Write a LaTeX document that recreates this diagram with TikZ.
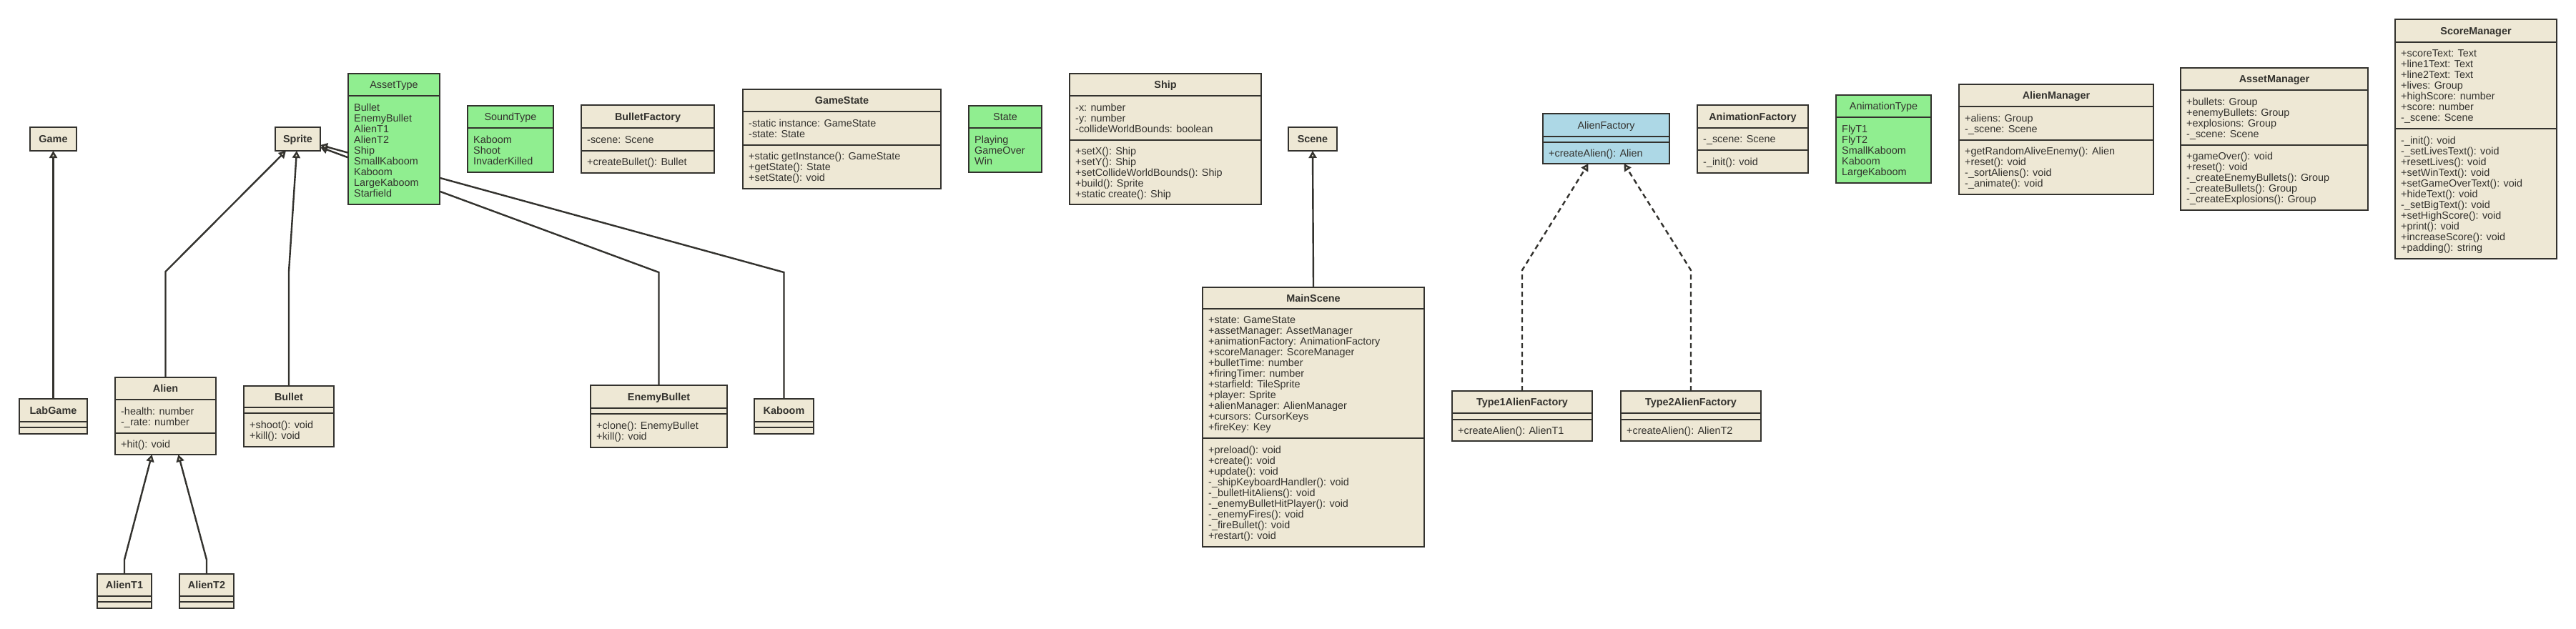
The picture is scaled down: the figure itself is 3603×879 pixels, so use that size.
\documentclass[tikz,border=0pt]{standalone}
\usepackage{fontspec}
\setmainfont{Liberation Sans}
\usetikzlibrary{arrows.meta}
\pgfdeclarelayer{edgelayer}
\pgfdeclarelayer{nodelayer}
\pgfsetlayers{edgelayer,nodelayer,main}
\definecolor{umlfill}{HTML}{EEE8D5}
\definecolor{umlline}{HTML}{33322E}
\definecolor{enumfill}{HTML}{90EE90}
\definecolor{ifacefill}{HTML}{ADD8E6}
\newcommand{\umlfont}{\fontsize{14.4}{15}\selectfont}
\tikzstyle{classbox}=[rectangle,draw=umlline,fill=umlfill,line width=2.5pt,inner sep=0pt,outer sep=0pt]
\tikzstyle{enumbox}=[classbox,fill=enumfill]
\tikzstyle{ifacebox}=[classbox,fill=ifacefill]
\tikzstyle{classtitle}=[font=\umlfont\bfseries,text=umlline,inner sep=0pt,anchor=base]
\tikzstyle{enumtitle}=[font=\umlfont,text=umlline,inner sep=0pt,anchor=base]
\tikzstyle{ifacetitle}=[enumtitle]
\tikzstyle{divider}=[draw=umlline,line width=2.5pt]
\tikzstyle{members}=[font=\umlfont,text=umlline,align=left,inner sep=0pt,anchor=north west]
\tikzstyle{inherit}=[draw=umlline,line width=2.4pt,line join=miter,-{Triangle[length=10pt,width=11pt,fill=umlfill]}]
\tikzstyle{realize}=[inherit,dash pattern=on 7pt off 5pt]
% box: [kind]{name}{left}{top}{right}{bottom}{title rule}{title}
\newcommand{\umlclass}[8][class]{%
	\node[#1box,minimum width={(#5-#3)*1pt},minimum height={(#6-#4)*1pt},anchor=north west] (#2) at (#3,#4) {};
	\draw[divider] (#2.west |- 0,#7) -- (#2.east |- 0,#7);
	\node[#1title] (#2-title) at ({(#3+#5)/2},{(#4+#7)/2+5.15}) {#8};
}
\newcommand{\umlsep}[2]{\draw[divider] (#1.west |- 0,#2) -- (#1.east |- 0,#2);}
% part: {box}{part}{top}{bottom}{lines}{text}
\newcommand{\umlpart}[6]{\node[members] (#1-#2) at ([xshift=8pt]#1.west |- 0,{(#3+#4)/2-5.85-7.5*(#5-1)}) {\rule{0pt}{11pt}#6};}

\begin{document}
\begin{tikzpicture}[x=1pt,y=-1pt]
	\useasboundingbox (0,0) rectangle (3603,879);
	\begin{pgfonlayer}{nodelayer}
		\umlclass{game}{42}{178}{107}{211}{211}{Game}
		\umlclass{labgame}{27}{558}{122}{607}{590}{LabGame}
		\umlsep{labgame}{598}
		\umlclass{sprite}{385}{178}{448}{211}{211}{Sprite}
		\umlclass{alien}{161}{528}{302}{636}{559}{Alien}
		\umlsep{alien}{606}
		\umlpart{alien}{attrs}{559}{606}{2}{-health: number\\-\_rate: number}
		\umlpart{alien}{ops}{606}{636}{1}{+hit(): void}
		\umlclass{bullet}{341}{540}{467}{625}{570}{Bullet}
		\umlsep{bullet}{578}
		\umlpart{bullet}{ops}{578}{625}{2}{+shoot(): void\\+kill(): void}
		\umlclass{alient1}{136}{803}{212}{851}{834}{AlienT1}
		\umlsep{alient1}{842}
		\umlclass{alient2}{251}{803}{327}{851}{834}{AlienT2}
		\umlsep{alient2}{842}
		\umlclass[enum]{assettype}{487}{103}{615}{286}{134}{AssetType}
		\umlpart{assettype}{values}{134}{286}{9}{Bullet\\EnemyBullet\\AlienT1\\AlienT2\\Ship\\SmallKaboom\\Kaboom\\LargeKaboom\\Starfield}
		\umlclass[enum]{soundtype}{654}{148}{774}{241}{179}{SoundType}
		\umlpart{soundtype}{values}{179}{241}{3}{Kaboom\\Shoot\\InvaderKilled}
		\umlclass{bulletfactory}{813}{147}{999}{242}{179}{BulletFactory}
		\umlsep{bulletfactory}{211}
		\umlpart{bulletfactory}{attrs}{179}{211}{1}{-scene: Scene}
		\umlpart{bulletfactory}{ops}{211}{242}{1}{+createBullet(): Bullet}
		\umlclass{gamestate}{1039}{125}{1316}{264}{156}{GameState}
		\umlsep{gamestate}{203}
		\umlpart{gamestate}{attrs}{156}{203}{2}{-static instance: GameState\\-state: State}
		\umlpart{gamestate}{ops}{203}{264}{3}{+static getInstance(): GameState\\+getState(): State\\+setState(): void}
		\umlclass[enum]{state}{1355}{148}{1457}{241}{179}{State}
		\umlpart{state}{values}{179}{241}{3}{Playing\\GameOver\\Win}
		\umlclass{ship}{1496}{103}{1764}{286}{134}{Ship}
		\umlsep{ship}{196}
		\umlpart{ship}{attrs}{134}{196}{3}{-x: number\\-y: number\\-collideWorldBounds: boolean}
		\umlpart{ship}{ops}{196}{286}{5}{+setX(): Ship\\+setY(): Ship\\+setCollideWorldBounds(): Ship\\+build(): Sprite\\+static create(): Ship}
		\umlclass{scene}{1802}{178}{1870}{211}{211}{Scene}
		\umlclass{enemybullet}{826}{539}{1017}{626}{571}{EnemyBullet}
		\umlsep{enemybullet}{579}
		\umlpart{enemybullet}{ops}{579}{626}{2}{+clone(): EnemyBullet\\+kill(): void}
		\umlclass{kaboom}{1055}{558}{1138}{607}{590}{Kaboom}
		\umlsep{kaboom}{598}
		\umlclass{mainscene}{1682}{402}{1992}{765}{432}{MainScene}
		\umlsep{mainscene}{613}
		\umlpart{mainscene}{attrs}{432}{613}{11}{+state: GameState\\+assetManager: AssetManager\\+animationFactory: AnimationFactory\\+scoreManager: ScoreManager\\+bulletTime: number\\+firingTimer: number\\+starfield: TileSprite\\+player: Sprite\\+alienManager: AlienManager\\+cursors: CursorKeys\\+fireKey: Key}
		\umlpart{mainscene}{ops}{613}{765}{9}{+preload(): void\\+create(): void\\+update(): void\\-\_shipKeyboardHandler(): void\\-\_bulletHitAliens(): void\\-\_enemyBulletHitPlayer(): void\\-\_enemyFires(): void\\-\_fireBullet(): void\\+restart(): void}
		\umlclass[iface]{alienfactory}{2158}{159}{2335}{229}{191}{AlienFactory}
		\umlsep{alienfactory}{199}
		\umlpart{alienfactory}{ops}{199}{229}{1}{+createAlien(): Alien}
		\umlclass{type1factory}{2031}{547}{2227}{617}{578}{Type1AlienFactory}
		\umlsep{type1factory}{587}
		\umlpart{type1factory}{ops}{587}{617}{1}{+createAlien(): AlienT1}
		\umlclass{type2factory}{2267}{547}{2463}{617}{578}{Type2AlienFactory}
		\umlsep{type2factory}{587}
		\umlpart{type2factory}{ops}{587}{617}{1}{+createAlien(): AlienT2}
		\umlclass{animationfactory}{2374}{147}{2529}{242}{179}{AnimationFactory}
		\umlsep{animationfactory}{210}
		\umlpart{animationfactory}{attrs}{179}{210}{1}{-\_scene: Scene}
		\umlpart{animationfactory}{ops}{210}{242}{1}{-\_init(): void}
		\umlclass[enum]{animationtype}{2568}{133}{2701}{256}{164}{AnimationType}
		\umlpart{animationtype}{values}{164}{256}{5}{FlyT1\\FlyT2\\SmallKaboom\\Kaboom\\LargeKaboom}
		\umlclass{alienmanager}{2740}{118}{3012}{272}{149}{AlienManager}
		\umlsep{alienmanager}{196}
		\umlpart{alienmanager}{attrs}{149}{196}{2}{+aliens: Group\\-\_scene: Scene}
		\umlpart{alienmanager}{ops}{196}{272}{4}{+getRandomAliveEnemy(): Alien\\+reset(): void\\-\_sortAliens(): void\\-\_animate(): void}
		\umlclass{assetmanager}{3050}{95}{3312}{294}{126}{AssetManager}
		\umlsep{assetmanager}{203}
		\umlpart{assetmanager}{attrs}{126}{203}{4}{+bullets: Group\\+enemyBullets: Group\\+explosions: Group\\-\_scene: Scene}
		\umlpart{assetmanager}{ops}{203}{294}{5}{+gameOver(): void\\+reset(): void\\-\_createEnemyBullets(): Group\\-\_createBullets(): Group\\-\_createExplosions(): Group}
		\umlclass{scoremanager}{3350}{27}{3576}{362}{59}{ScoreManager}
		\umlsep{scoremanager}{180}
		\umlpart{scoremanager}{attrs}{59}{180}{7}{+scoreText: Text\\+line1Text: Text\\+line2Text: Text\\+lives: Group\\+highScore: number\\+score: number\\-\_scene: Scene}
		\umlpart{scoremanager}{ops}{180}{362}{11}{-\_init(): void\\-\_setLivesText(): void\\+resetLives(): void\\+setWinText(): void\\+setGameOverText(): void\\+hideText(): void\\-\_setBigText(): void\\+setHighScore(): void\\+print(): void\\+increaseScore(): void\\+padding(): string}
	\end{pgfonlayer}
	\begin{pgfonlayer}{edgelayer}
		\fill[white] (0,0) rectangle (3603,879);
		\draw[inherit] (labgame.north) -- (game.south);
		\draw[inherit] (alien.north) -- (alien.north |- 0,380) -- ([xshift=15pt]sprite.south west);
		\draw[inherit] (bullet.north) -- (bullet.north |- 0,380) -- ([xshift=30pt]sprite.south west);
		\draw[inherit] (alient1.north) -- (alient1.north |- 0,783) -- ([xshift=-19pt]alien.south);
		\draw[inherit] (alient2.north) -- (alient2.north |- 0,783) -- ([xshift=18pt]alien.south);
		\draw[inherit] (enemybullet.north) -- (enemybullet.north |- 0,381) -- ([yshift=5pt]sprite.south east);
		\draw[inherit] (kaboom.north) -- (kaboom.north |- 0,381) -- ([yshift=8pt]sprite.south east);
		\draw[inherit] (mainscene.north) -- (scene.south);
		\draw[realize] (type1factory.north) -- (type1factory.north |- 0,378) -- ([xshift=-25pt]alienfactory.south);
		\draw[realize] (type2factory.north) -- (type2factory.north |- 0,378) -- ([xshift=25pt]alienfactory.south);
	\end{pgfonlayer}
\end{tikzpicture}
\end{document}
